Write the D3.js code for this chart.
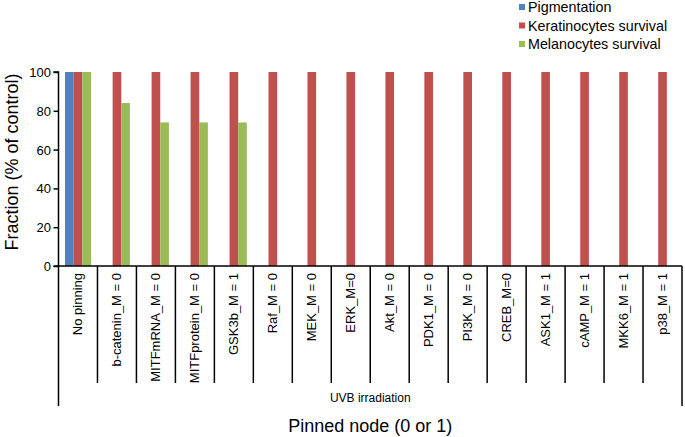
<!DOCTYPE html>
<html lang="en">
<head>
    <meta charset="UTF-8">
    <title>Pinned node chart</title>
    <script src="https://d3js.org/d3.v7.min.js"></script>
    <style>
        body { margin: 0; background: #fff; }
        text { font-family: "Liberation Sans", Arial, sans-serif; fill: #000; }
    </style>
</head>
<body>
    <div id="chart"></div>

    <script>
        // categories (pinned nodes) and series values
        var categories = ["No pinning", "b-catenin_M = 0", "MITFmRNA_M = 0", "MITFprotein_M = 0",
            "GSK3b_M = 1", "Raf_M = 0", "MEK_M = 0", "ERK_M=0", "Akt_M = 0", "PDK1_M = 0",
            "PI3K_M = 0", "CREB_M=0", "ASK1_M = 1", "cAMP_M = 1", "MKK6_M = 1", "p38_M = 1"];
        var seriesNames = ["Pigmentation", "Keratinocytes survival", "Melanocytes survival"];
        var seriesColors = ["#4F81BD", "#C0504D", "#9BBB59"];
        var pigmentation = [100, 0, 0, 0, 0, 0, 0, 0, 0, 0, 0, 0, 0, 0, 0, 0];
        var keratinocytes = [100, 100, 100, 100, 100, 100, 100, 100, 100, 100, 100, 100, 100, 100, 100, 100];
        var melanocytes = [100, 84, 74, 74, 74, 0, 0, 0, 0, 0, 0, 0, 0, 0, 0, 0];
        var yTicks = [0, 20, 40, 60, 80, 100];
        var groupLabel = "UVB irradiation";

        var seriesValues = [pigmentation, keratinocytes, melanocytes];

        var svg = d3.select("#chart")
            .append("svg")
            .attr("width", 685)
            .attr("height", 437);

        var margin = { top: 72, right: 3, bottom: 171, left: 58.5 };
        var width = 685 - margin.left - margin.right;
        var height = 437 - margin.top - margin.bottom;

        var x = d3.scaleBand().domain(categories).range([0, width]).padding(0);
        // Excel-like gap width of 150% between clusters
        var xs = d3.scaleBand().domain(d3.range(3)).range([0, x.bandwidth()])
            .paddingInner(0).paddingOuter(0.75);
        var y = d3.scaleLinear().domain([0, 100]).range([height, 0]);

        var g = svg.append("g")
            .attr("transform", "translate(" + margin.left + "," + margin.top + ")");

        // bars
        seriesValues.forEach(function(vals, s) {
            g.selectAll(".bar-" + s)
                .data(vals)
                .enter().append("rect")
                .attr("class", "bar-" + s)
                .attr("x", function(d, i) { return x(categories[i]) + xs(s); })
                .attr("y", function(d) { return y(d); })
                .attr("width", xs.bandwidth())
                .attr("height", function(d) { return height - y(d); })
                .style("fill", seriesColors[s]);
        });

        // y axis
        var yAxis = g.append("g")
            .call(d3.axisLeft(y).tickValues(yTicks).tickSize(5).tickPadding(2.5));
        yAxis.select(".domain").attr("stroke", "#000").attr("stroke-width", 1.5)
            .attr("d", "M-5," + height + "H0V0H-5");
        yAxis.selectAll(".tick line").attr("stroke", "#000").attr("stroke-width", 1.5);
        yAxis.selectAll("text").style("font-size", "13px").attr("dy", "0.35em");

        // x axis line
        g.append("line")
            .attr("x1", 0).attr("x2", width)
            .attr("y1", height).attr("y2", height)
            .attr("stroke", "#000").attr("stroke-width", 1.5);

        // category separators
        var bounds = categories.map(function(c) { return x(c); }).concat([width]);
        g.selectAll(".sep")
            .data(bounds)
            .enter().append("line")
            .attr("class", "sep")
            .attr("x1", function(d) { return d; })
            .attr("x2", function(d) { return d; })
            .attr("y1", height)
            .attr("y2", function(d, i) { return (i === 0 || i === categories.length) ? height + 140 : height + 117; })
            .attr("stroke", "#000").attr("stroke-width", 1.5);

        // category labels
        g.selectAll(".cat")
            .data(categories)
            .enter().append("text")
            .attr("class", "cat")
            .attr("transform", function(d) {
                return "translate(" + (x(d) + x.bandwidth() / 2 + 4.5) + "," + (height + 7) + ") rotate(-90)";
            })
            .style("text-anchor", "end")
            .style("font-size", "13px")
            .text(function(d) { return d; });

        g.append("text")
            .attr("x", width / 2)
            .attr("y", height + 136)
            .style("text-anchor", "middle")
            .style("font-size", "12px")
            .text(groupLabel);

        // axis titles
        svg.append("text")
            .attr("x", margin.left + width / 2)
            .attr("y", 432)
            .style("text-anchor", "middle")
            .style("font-size", "18px")
            .text("Pinned node (0 or 1)");

        svg.append("text")
            .attr("transform", "translate(18," + (margin.top + height / 2 - 7) + ") rotate(-90)")
            .style("text-anchor", "middle")
            .style("font-size", "18px")
            .text("Fraction (% of control)");

        // legend
        var legend = svg.append("g")
            .attr("transform", "translate(519,0)");
        seriesNames.forEach(function(name, i) {
            legend.append("rect")
                .attr("x", 0).attr("y", 4 + i * 18.5)
                .attr("width", 6).attr("height", 6)
                .attr("fill", seriesColors[i]);
            legend.append("text")
                .attr("x", 9).attr("y", 7 + i * 18.5)
                .attr("dy", "0.35em")
                .style("font-size", "14.3px")
                .text(name);
        });
    </script>
</body>
</html>
